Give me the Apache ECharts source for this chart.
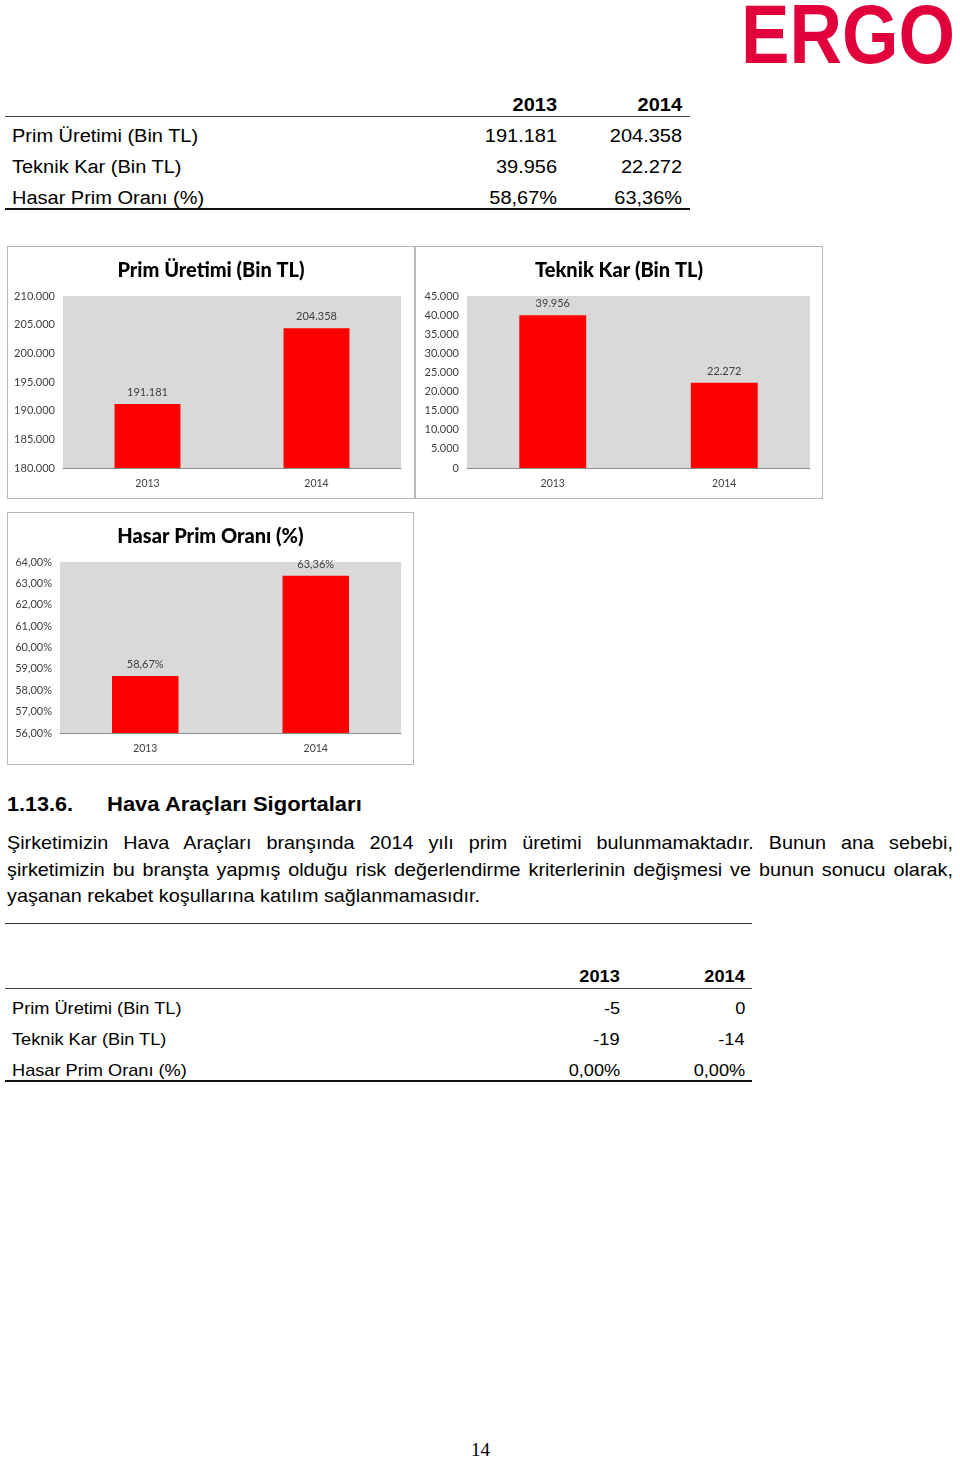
<!DOCTYPE html>
<html>
<head>
<meta charset="utf-8">
<script src="https://cdn.jsdelivr.net/npm/echarts@6/dist/echarts.min.js"></script>
<style>
  html, body { margin: 0; padding: 0; background: #fff; }
  body { width: 960px; height: 1459px; position: relative; overflow: hidden; font-family: "Liberation Sans", Arial, sans-serif; color: #000; }
  .abs { position: absolute; white-space: nowrap; }
  .hline { position: absolute; background: #000; }
  .chartbox { position: absolute; box-sizing: border-box; border: 1px solid #b8b8b8; background: #fff; }
  .sx { transform-origin: 0 50%; }
  .pline { position: absolute; left: 7px; width: 884px; font-size: 18.5px; line-height: 26px; white-space: nowrap; transform-origin: 0 0; transform: scaleX(1.07); }
  .pj { text-align: justify; text-align-last: justify; }
</style>
</head>
<body>
<div class="abs" id="logo" style="left:741px; top:-8px; font-size:84px; font-weight:bold; color:#e2003c; line-height:84px; transform-origin:0 0; transform:scaleX(0.865);">ERGO</div>

<div id="table1"></div>
<div class="chartbox" id="c1" style="left:7px; top:246px; width:408px; height:253px;"></div>
<div class="chartbox" id="c2" style="left:415px; top:246px; width:408px; height:253px;"></div>
<div class="chartbox" id="c3" style="left:7px; top:512px; width:407px; height:253px;"></div>

<div class="abs sx" style="left:7px; top:792px; font-size:20px; line-height:24px; font-weight:bold; transform:scaleX(1.08);">1.13.6.</div>
<div class="abs sx" style="left:107px; top:792px; font-size:20px; line-height:24px; font-weight:bold; transform:scaleX(1.1);">Hava Araçları Sigortaları</div>

<div class="pline pj" style="top:830px; white-space:normal;">Şirketimizin Hava Araçları branşında 2014 yılı prim üretimi bulunmamaktadır. Bunun ana sebebi,</div>
<div class="pline pj" style="top:856.5px; white-space:normal;">şirketimizin bu branşta yapmış olduğu risk değerlendirme kriterlerinin değişmesi ve bunun sonucu olarak,</div>
<div class="pline" style="top:883px;">yaşanan rekabet koşullarına katılım sağlanmamasıdır.</div>

<div class="hline" style="left:5px; top:923px; width:747px; height:1px; background:#333;"></div>
<div id="table2"></div>

<div class="abs" style="left:471px; top:1439px; font-family:'Liberation Serif', 'DejaVu Serif', serif; font-size:19px; line-height:22px;">14</div>

<script>
// ---------- data ----------
const years = ['2013', '2014'];
const rowLabels = ['Prim Üretimi (Bin TL)', 'Teknik Kar (Bin TL)', 'Hasar Prim Oranı (%)'];
const primUretimi = [191181, 204358];
const teknikKar = [39956, 22272];
const hasarPrimOrani = [58.67, 63.36];
const havaPrimUretimi = [-5, 0];
const havaTeknikKar = [-19, -14];
const havaHasarPrimOrani = [0.00, 0.00];

function thousands(v) {
  const s = String(Math.abs(Math.round(v))).replace(/\B(?=(\d{3})+(?!\d))/g, '.');
  return (v < 0 ? '-' : '') + s;
}
function pct(v) { return v.toFixed(2).replace('.', ',') + '%'; }

// ---------- tables ----------
function buildTable(el, cfg) {
  let h = '';
  const rows = cfg.rows;
  years.forEach((y, i) => {
    h += `<div class="abs" style="left:${cfg.colRight[i] - 200}px; width:200px; text-align:right; top:${cfg.headerY - 12}px; line-height:24px; font-size:${cfg.fs}px; font-weight:bold;"><span style="display:inline-block; transform-origin:100% 50%; transform:scaleX(${cfg.sx});">${y}</span></div>`;
  });
  h += `<div class="hline" style="left:${cfg.x0}px; top:${cfg.line1}px; width:${cfg.x1 - cfg.x0}px; height:1px; background:#444;"></div>`;
  rows.forEach((r, ri) => {
    const y = cfg.rowY[ri];
    h += `<div class="abs sx" style="left:12px; top:${y - 12}px; line-height:24px; font-size:${cfg.fs}px; transform:scaleX(${cfg.sx});">${r.label}</div>`;
    r.vals.forEach((v, i) => {
      h += `<div class="abs" style="left:${cfg.colRight[i] - 200}px; width:200px; text-align:right; top:${y - 12}px; line-height:24px; font-size:${cfg.fs}px;"><span style="display:inline-block; transform-origin:100% 50%; transform:scaleX(${cfg.sx});">${r.fmt(v)}</span></div>`;
    });
  });
  h += `<div class="hline" style="left:${cfg.x0}px; top:${cfg.line2}px; width:${cfg.x1 - cfg.x0}px; height:2px; background:#111;"></div>`;
  el.innerHTML = h;
}

buildTable(document.getElementById('table1'), {
  fs: 18, sx: 1.11, x0: 5, x1: 690, headerY: 105, line1: 116, line2: 208,
  rowY: [136, 167, 198], colRight: [557, 682],
  rows: [
    { label: rowLabels[0], vals: primUretimi, fmt: thousands },
    { label: rowLabels[1], vals: teknikKar, fmt: thousands },
    { label: rowLabels[2], vals: hasarPrimOrani, fmt: pct }
  ]
});
buildTable(document.getElementById('table2'), {
  fs: 17, sx: 1.07, x0: 5, x1: 752, headerY: 977, line1: 988, line2: 1080,
  rowY: [1009, 1040, 1071], colRight: [620, 745],
  rows: [
    { label: rowLabels[0], vals: havaPrimUretimi, fmt: thousands },
    { label: rowLabels[1], vals: havaTeknikKar, fmt: thousands },
    { label: rowLabels[2], vals: havaHasarPrimOrani, fmt: pct }
  ]
});

// ---------- charts ----------
const chartFont = 'Lato, "Open Sans", sans-serif';
function barChart(id, title, values, yMin, yMax, yInt, fmt, grid) {
  const chart = echarts.init(document.getElementById(id), null, { renderer: 'canvas' });
  chart.setOption({
    animation: false,
    backgroundColor: '#fff',
    title: {
      text: title, left: 'center', top: 9,
      textStyle: { fontFamily: chartFont, fontSize: 20, fontWeight: 900, color: '#000' }
    },
    grid: Object.assign({ show: true, backgroundColor: '#d9d9d9', borderWidth: 0, containLabel: false }, grid),
    xAxis: {
      type: 'category', data: years,
      axisTick: { show: false },
      axisLine: { lineStyle: { color: '#8c8c8c', width: 1 } },
      axisLabel: { fontFamily: chartFont, fontSize: 10.5, color: '#404040', margin: 10 }
    },
    yAxis: {
      type: 'value', min: yMin, max: yMax, interval: yInt,
      axisLine: { show: false }, axisTick: { show: false },
      splitLine: { show: false },
      axisLabel: { fontFamily: chartFont, fontSize: 11, color: '#404040', margin: 8, formatter: v => fmt(v) }
    },
    series: [{
      type: 'bar', data: values, barWidth: '39%',
      itemStyle: { color: '#ff0000' },
      label: { show: true, position: 'top', distance: 6, fontFamily: chartFont, fontSize: 11, color: '#404040', formatter: p => fmt(p.value) }
    }]
  });
}

barChart('c1', 'Prim Üretimi (Bin TL)', primUretimi, 180000, 210000, 5000, thousands,
  { left: 55, right: 13, top: 49, bottom: 30 });
barChart('c2', 'Teknik Kar (Bin TL)', teknikKar, 0, 45000, 5000, thousands,
  { left: 51, right: 12, top: 49, bottom: 30 });
barChart('c3', 'Hasar Prim Oranı (%)', hasarPrimOrani, 56, 64, 1, pct,
  { left: 52, right: 12, top: 49, bottom: 31 });
</script>
</body>
</html>
